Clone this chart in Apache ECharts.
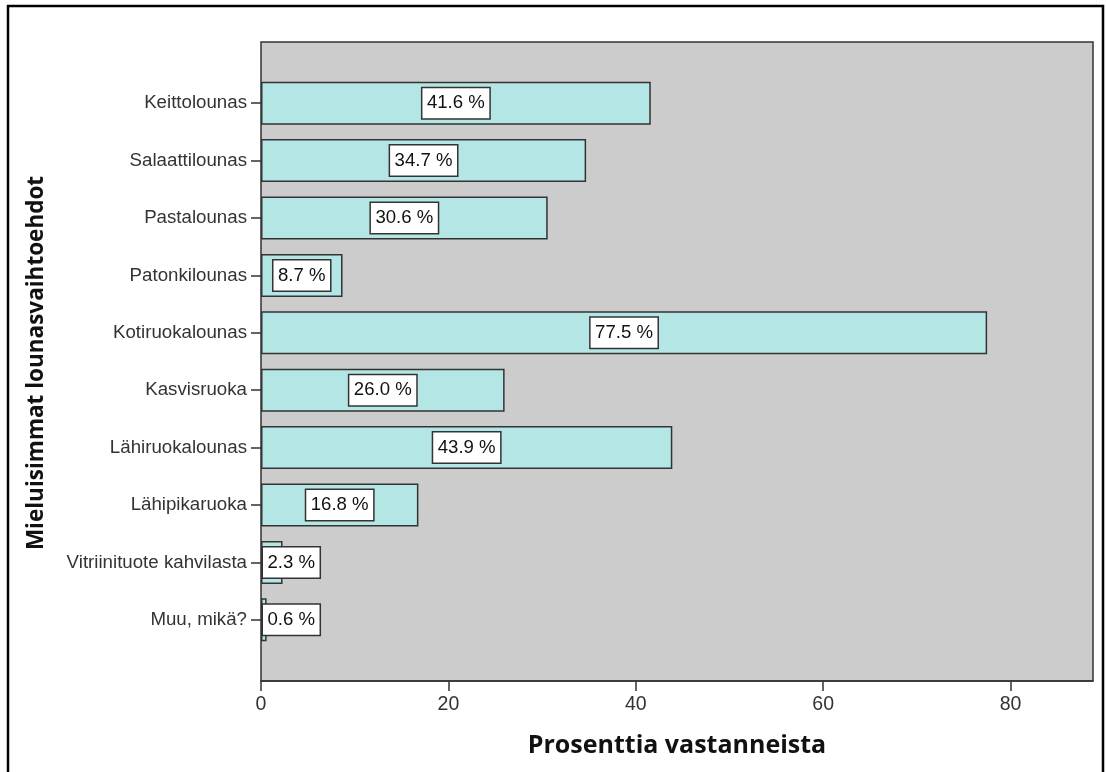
<!DOCTYPE html>
<html>
<head>
<meta charset="utf-8">
<script src="https://cdn.jsdelivr.net/npm/echarts@6/dist/echarts.min.js"></script>
<style>
html,body{margin:0;padding:0;background:#fff;}
#chart{width:1106px;height:772px;}
</style>
</head>
<body>
<div id="chart"></div>
<script>
const categories = ['Keittolounas','Salaattilounas','Pastalounas','Patonkilounas','Kotiruokalounas','Kasvisruoka','Lähiruokalounas','Lähipikaruoka','Vitriinituote kahvilasta','Muu, mikä?'];
const values = [41.6, 34.7, 30.6, 8.7, 77.5, 26.0, 43.9, 16.8, 2.3, 0.6];
const xTicks = [0, 20, 40, 60, 80];
const xTitle = 'Prosenttia vastanneista';
const yTitle = 'Mieluisimmat lounasvaihtoehdot';
const xMax = 88.8;

const chart = echarts.init(document.getElementById('chart'), null, {renderer:'canvas'});
const barData = values.map(v => (v < 5 ? {value: v, label: {position: 'insideLeft', distance: 2}} : {value: v}));

chart.setOption({
  animation: false,
  backgroundColor: '#ffffff',
  grid: [
    {left: 261, top: 42, width: 832, height: 639, show: true, backgroundColor: '#cccccc', borderColor: '#333333', borderWidth: 1.5, z: 0},
    {left: 261, top: 74.5, width: 832, height: 574}
  ],
  xAxis: [
    {gridIndex: 0, type: 'value', min: 0, max: xMax, interval: 20,
     axisLine: {show: true, lineStyle: {color: '#333333', width: 1.5}},
     axisTick: {show: true, length: 10, customValues: xTicks, lineStyle: {color: '#333333', width: 1.5}},
     axisLabel: {customValues: xTicks, margin: 14, fontSize: 19.5, color: '#333333', fontFamily: 'Liberation Sans, Arial, sans-serif'},
     splitLine: {show: false}},
    {gridIndex: 1, type: 'value', min: 0, max: xMax, show: false, splitLine: {show: false}}
  ],
  yAxis: [
    {gridIndex: 0, type: 'value', show: false, splitLine: {show: false}},
    {gridIndex: 1, type: 'category', data: categories, inverse: true,
     axisLine: {show: false},
     axisTick: {show: true, alignWithLabel: true, length: 10, lineStyle: {color: '#333333', width: 1.5}},
     axisLabel: {margin: 14, fontSize: 18.7, color: '#333333', fontFamily: 'Liberation Sans, Arial, sans-serif'},
     splitLine: {show: false}}
  ],
  series: [{
    type: 'bar',
    xAxisIndex: 1, yAxisIndex: 1,
    data: barData,
    barWidth: 43,
    itemStyle: {color: '#b4e6e6', borderColor: '#333333', borderWidth: 1.5},
    label: {
      show: true, position: 'inside',
      formatter: p => p.value.toFixed(1) + ' %',
      fontSize: 18.6, color: '#111111', fontFamily: 'Liberation Sans, Arial, sans-serif',
      backgroundColor: '#ffffff', borderColor: '#333333', borderWidth: 1.5,
      padding: [6, 4.5, 5, 4.5]
    }
  }],
  graphic: [
    {type: 'rect', shape: {x: 8, y: 6, width: 1095, height: 790}, style: {fill: 'none', stroke: '#000000', lineWidth: 2.5}, silent: true},
    {type: 'text', x: 677, y: 746, style: {text: xTitle, font: 'bold 25px "Open Sans", sans-serif', fill: '#111111', textAlign: 'center', textVerticalAlign: 'middle'}},
    {type: 'text', x: 37, y: 363, rotation: Math.PI / 2, style: {text: yTitle, font: 'bold 22.5px "Open Sans", sans-serif', fill: '#111111', textAlign: 'center', textVerticalAlign: 'middle'}}
  ]
});
</script>
</body>
</html>
